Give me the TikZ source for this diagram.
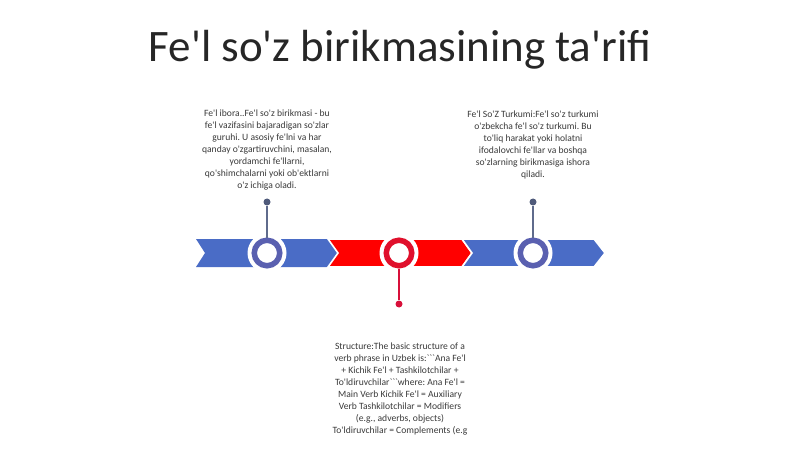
\documentclass[tikz,border=0pt]{standalone}
\usepackage{fontspec}
\setmainfont{Carlito}
\frenchspacing
\newcommand{\ap}{\textquotesingle}
\definecolor{bandblue}{HTML}{4A6CC6}
\definecolor{ringblue}{HTML}{5A60B0}
\definecolor{bandred}{HTML}{FF0000}
\definecolor{ringred}{HTML}{E0102C}
\definecolor{pinblue}{HTML}{5F6B8C}
\definecolor{dotblue}{HTML}{4F5A7A}
\definecolor{pinred}{HTML}{D8103A}
\definecolor{txt}{HTML}{3A3A3A}
\tikzset{
  chev/.style={line width=1.6pt, draw=white, line join=miter},
  halo/.style={circle, fill=white, minimum size=39pt, inner sep=0pt},
  ring/.style={circle, draw=#1, line width=5.5pt, fill=white, minimum size=25.5pt, inner sep=0pt},
  pindot/.style={circle, fill=#1, minimum size=7pt, inner sep=0pt},
  pinline/.style={draw=#1, line width=1.2pt},
  desc/.style={align=center, text=txt, inner sep=0pt, font=\fontsize{9.6}{12}\selectfont},
}
\begin{document}
\begin{tikzpicture}[x=1pt,y=-1pt]
\useasboundingbox (0,0) rectangle (800,449);
\fill[white] (0,0) rectangle (800,449);
% title
\node[anchor=base, text=black!85, font=\fontsize{45}{50}\selectfont, inner sep=0pt] (title) at (400,62) {Fe\ap l so\ap z birikmasining ta\ap rifi};
% chevrons
\fill[bandblue] (196,239) -- (328,239) -- (338,253) -- (328,267) -- (196,267) -- (205,253) -- cycle;
\filldraw[bandred, chev] (328,239) -- (462,239) -- (472,253) -- (462,267) -- (328,267) -- (338,253) -- cycle;
\filldraw[bandblue, chev] (462,239) -- (594,239) -- (605,253) -- (594,267) -- (462,267) -- (472,253) -- cycle;
% circles
\node[halo] (h1) at (267,253) {};
\node[halo] (h2) at (399,253) {};
\node[halo] (h3) at (533,253) {};
\node[ring=ringblue] (c1) at (267,253) {};
\node[ring=ringred] (c2) at (399,253) {};
\node[ring=ringblue] (c3) at (533,253) {};
% pins
\node[pindot=dotblue] (p1) at (267,202) {};
\node[pindot=pinred] (p2) at (399,304) {};
\node[pindot=dotblue] (p3) at (533,202) {};
\path[pinline=pinblue] (p1) -- (c1);
\path[pinline=pinred] (c2) -- (p2);
\path[pinline=pinblue] (p3) -- (c3);
% texts
\node[desc, anchor=north] (t1) at (267,109.5) {Fe\ap l ibora..Fe\ap l so\ap z birikmasi - bu\\ fe\ap l vazifasini bajaradigan so\ap zlar\\ guruhi. U asosiy fe\ap lni va har\\ qanday o\ap zgartiruvchini, masalan,\\ yordamchi fe\ap llarni,\\ qo\ap shimchalarni yoki ob\ap ektlarni\\ o\ap z ichiga oladi.};
\node[desc, anchor=north] (t2) at (533,110.5) {Fe\ap l So\ap Z Turkumi:Fe\ap l so\ap z turkumi\\ o\ap zbekcha fe\ap l so\ap z turkumi. Bu\\ to\ap liq harakat yoki holatni\\ ifodalovchi fe\ap llar va boshqa\\ so\ap zlarning birikmasiga ishora\\ qiladi.};
\node[desc, anchor=north] (t3) at (400,342.5) {Structure:The basic structure of a\\ verb phrase in Uzbek is:\textasciigrave\textasciigrave\textasciigrave Ana Fe\ap l\\ + Kichik Fe\ap l + Tashkilotchilar +\\ To\ap ldiruvchilar\textasciigrave\textasciigrave\textasciigrave where: Ana Fe\ap l =\\ Main Verb Kichik Fe\ap l = Auxiliary\\ Verb Tashkilotchilar = Modifiers\\ (e.g., adverbs, objects)\\ To\ap ldiruvchilar = Complements (e.g};
\end{tikzpicture}
\end{document}
